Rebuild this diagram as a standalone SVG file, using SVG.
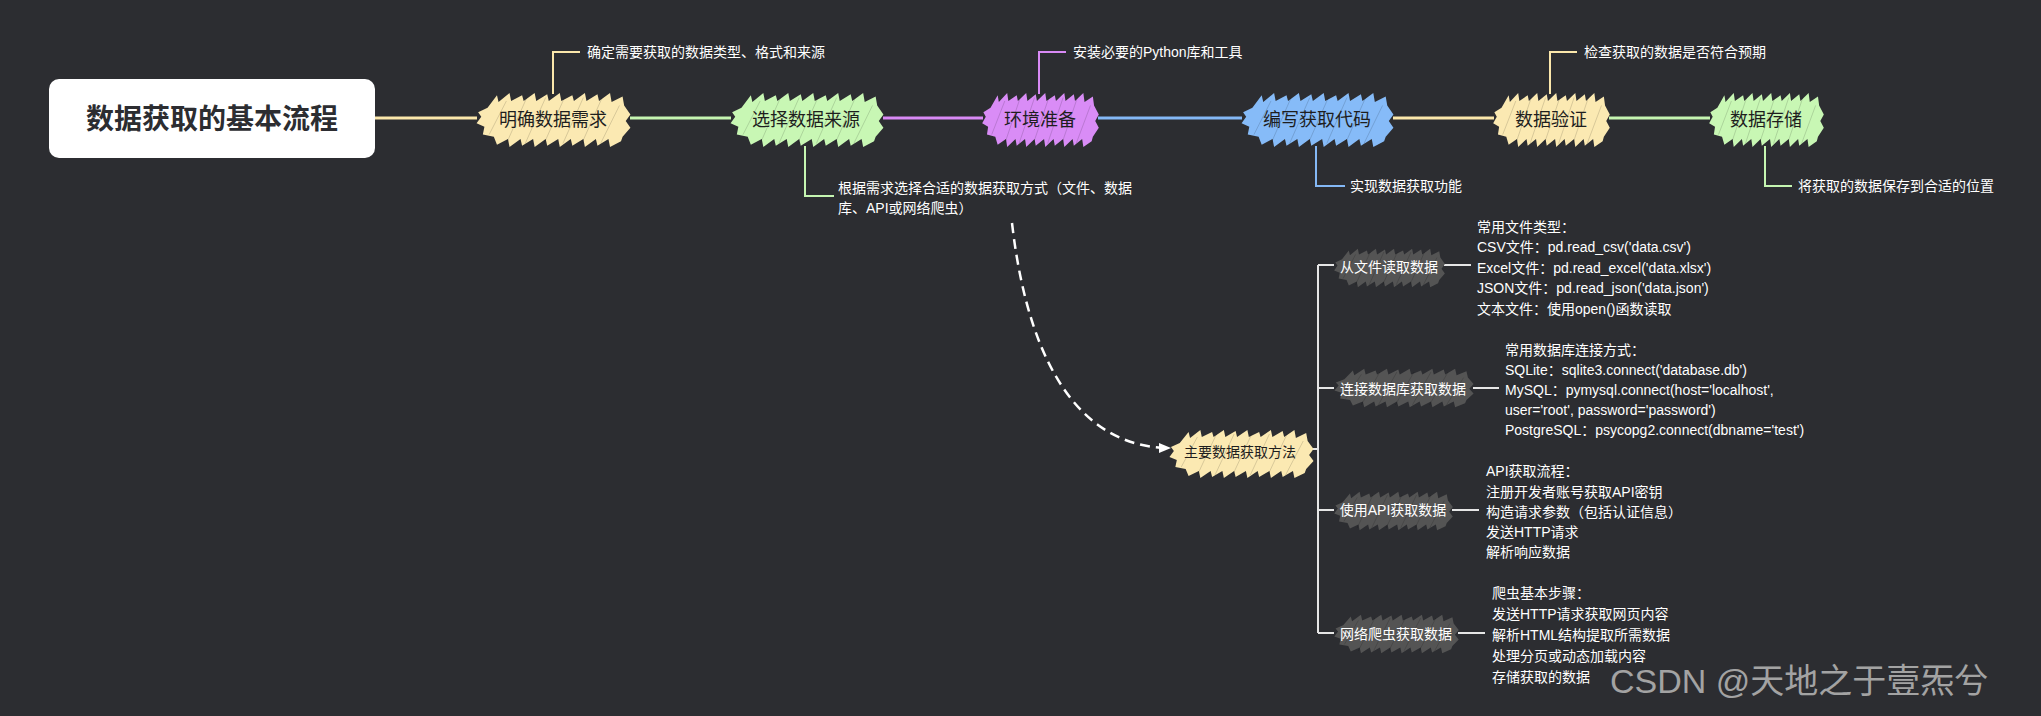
<svg xmlns="http://www.w3.org/2000/svg" width="2041" height="716" viewBox="0 0 2041 716">
<style>
.t{font-family:"Liberation Sans","Noto Sans CJK SC",sans-serif;dominant-baseline:central}
.node{font-size:18px;fill:#1e1e1e;text-anchor:middle}
.sub{font-size:14px;fill:#ffffff;text-anchor:middle}
.mid{font-size:14px;fill:#1e1e1e;text-anchor:middle}
.desc{font-size:14px;fill:#ffffff}
.conn{fill:none;stroke-width:3}
.call{fill:none;stroke-width:2}
.br{fill:none;stroke:#e6e6e6;stroke-width:2}
.y{stroke:#fbe7ab}.g{stroke:#c5f5b1}.p{stroke:#d98af6}.b{stroke:#84b8f6}
.fy{fill:#fbe9b2}.fg{fill:#c8f7b4}.fp{fill:#d98cf6}.fb{fill:#86bbf8}.fk{fill:#545454}
</style>
<defs>
<symbol id="blob" viewBox="0 0 100 50" preserveAspectRatio="none">
<path d="M8 14 L14 3 L15 9 L22 1 L23 8 L30 3 L31 8 L38 1 L39 8 L46 2 L47 8 L54 1 L55 8 L62 3 L63 8 L70 1 L71 8 L78 2 L79 8 L86 1 L87 9 L94 4 L95 12 L99 20 L96 26 L99 32 L94 40 L93 44 L86 49 L85 42 L78 48 L77 42 L70 49 L69 42 L62 48 L61 42 L54 49 L53 42 L46 48 L45 42 L38 49 L37 42 L30 48 L29 42 L22 49 L21 42 L14 47 L12 40 L5 38 L6 31 L1 28 L4 22 L2 18 Z"/>
<path d="M9 38 L20 8 M20 46 L33 5 M32 46 L45 5 M44 46 L57 5 M56 46 L69 5 M68 46 L81 5 M80 46 L92 12" fill="none" stroke="rgba(0,0,0,0.14)" stroke-width="1" vector-effect="non-scaling-stroke"/>
</symbol>
<marker id="arr" markerWidth="12" markerHeight="12" refX="11" refY="6" orient="auto" markerUnits="userSpaceOnUse">
<path d="M0 1 L12 6 L0 11 Z" fill="#ffffff"/>
</marker>
</defs>
<rect width="2041" height="716" fill="#2c2d31"/>

<g id="connectors">
<path class="conn y" d="M375 118 H477"/>
<path class="conn g" d="M630 118 H731"/>
<path class="conn p" d="M883 118 H983"/>
<path class="conn b" d="M1098 118 H1242"/>
<path class="conn y" d="M1393 118 H1494"/>
<path class="conn g" d="M1609 118 H1710"/>
<path class="call y" d="M553 94 V52 H580"/>
<path class="call g" d="M805 146 V196 H834"/>
<path class="call p" d="M1039 94 V52 H1066"/>
<path class="call b" d="M1316 146 V186 H1345"/>
<path class="call y" d="M1550 94 V52 H1577"/>
<path class="call g" d="M1765 146 V186 H1792"/>
<path d="M1012 223 C1030 380 1090 448 1170 448" fill="none" stroke="#ffffff" stroke-width="2.5" stroke-dasharray="10 6" marker-end="url(#arr)"/>
<path class="br" d="M1313 449 H1318 M1318 265 V633 M1318 265 H1334 M1318 388 H1334 M1318 510 H1334 M1318 633 H1334"/>
<path class="br" d="M1444 265 H1471 M1473 388 H1499 M1452 510 H1479 M1458 633 H1485"/>
</g>

<g id="root">
<rect x="49" y="79" width="326" height="79" rx="10" fill="#ffffff"/>
<text class="t" x="212" y="119" font-size="28" font-weight="bold" fill="#2c2d31" text-anchor="middle">数据获取的基本流程</text>
</g>

<g id="n1">
<use href="#blob" x="475" y="92" width="157" height="56" class="fy"/>
<text class="t node" x="553" y="120">明确数据需求</text>
<text class="t desc" x="587" y="52">确定需要获取的数据类型、格式和来源</text>
</g>
<g id="n2">
<use href="#blob" x="729" y="92" width="156" height="56" class="fg"/>
<text class="t node" x="806" y="120">选择数据来源</text>
<text class="t desc" x="838" y="188">根据需求选择合适的数据获取方式（文件、数据</text>
<text class="t desc" x="838" y="208">库、API或网络爬虫）</text>
</g>
<g id="n3">
<use href="#blob" x="981" y="92" width="119" height="56" class="fp"/>
<text class="t node" x="1040" y="120">环境准备</text>
<text class="t desc" x="1073" y="52">安装必要的Python库和工具</text>
</g>
<g id="n4">
<use href="#blob" x="1240" y="92" width="155" height="56" class="fb"/>
<text class="t node" x="1317" y="120">编写获取代码</text>
<text class="t desc" x="1350" y="186">实现数据获取功能</text>
</g>
<g id="n5">
<use href="#blob" x="1492" y="92" width="119" height="56" class="fy"/>
<text class="t node" x="1551" y="120">数据验证</text>
<text class="t desc" x="1584" y="52">检查获取的数据是否符合预期</text>
</g>
<g id="n6">
<use href="#blob" x="1708" y="92" width="117" height="56" class="fg"/>
<text class="t node" x="1766" y="120">数据存储</text>
<text class="t desc" x="1798" y="186">将获取的数据保存到合适的位置</text>
</g>

<g id="methods">
<use href="#blob" x="1168" y="429" width="147" height="50" class="fy"/>
<text class="t mid" x="1240" y="452">主要数据获取方法</text>
</g>

<g id="c1">
<use href="#blob" x="1333" y="248" width="113" height="40" class="fk"/>
<text class="t sub" x="1389" y="267">从文件读取数据</text>
<text class="t desc" x="1477" y="227">常用文件类型：</text>
<text class="t desc" x="1477" y="247">CSV文件：pd.read_csv('data.csv')</text>
<text class="t desc" x="1477" y="268">Excel文件：pd.read_excel('data.xlsx')</text>
<text class="t desc" x="1477" y="288">JSON文件：pd.read_json('data.json')</text>
<text class="t desc" x="1477" y="309">文本文件：使用open()函数读取</text>
</g>
<g id="c2">
<use href="#blob" x="1333" y="368" width="142" height="40" class="fk"/>
<text class="t sub" x="1403" y="389">连接数据库获取数据</text>
<text class="t desc" x="1505" y="350">常用数据库连接方式：</text>
<text class="t desc" x="1505" y="370">SQLite：sqlite3.connect('database.db')</text>
<text class="t desc" x="1505" y="390">MySQL：pymysql.connect(host='localhost',</text>
<text class="t desc" x="1505" y="410">user='root', password='password')</text>
<text class="t desc" x="1505" y="430">PostgreSQL：psycopg2.connect(dbname='test')</text>
</g>
<g id="c3">
<use href="#blob" x="1333" y="491" width="121" height="40" class="fk"/>
<text class="t sub" x="1393" y="510">使用API获取数据</text>
<text class="t desc" x="1486" y="471">API获取流程：</text>
<text class="t desc" x="1486" y="492">注册开发者账号获取API密钥</text>
<text class="t desc" x="1486" y="512">构造请求参数（包括认证信息）</text>
<text class="t desc" x="1486" y="532">发送HTTP请求</text>
<text class="t desc" x="1486" y="552">解析响应数据</text>
</g>
<g id="c4">
<use href="#blob" x="1333" y="614" width="127" height="40" class="fk"/>
<text class="t sub" x="1396" y="634">网络爬虫获取数据</text>
<text class="t desc" x="1492" y="593">爬虫基本步骤：</text>
<text class="t desc" x="1492" y="614">发送HTTP请求获取网页内容</text>
<text class="t desc" x="1492" y="635">解析HTML结构提取所需数据</text>
<text class="t desc" x="1492" y="656">处理分页或动态加载内容</text>
<text class="t desc" x="1492" y="677">存储获取的数据</text>
</g>

<text class="t" x="1610" y="681" font-size="34" fill="#a3a3a3">CSDN @天地之于壹炁兮</text>
</svg>
